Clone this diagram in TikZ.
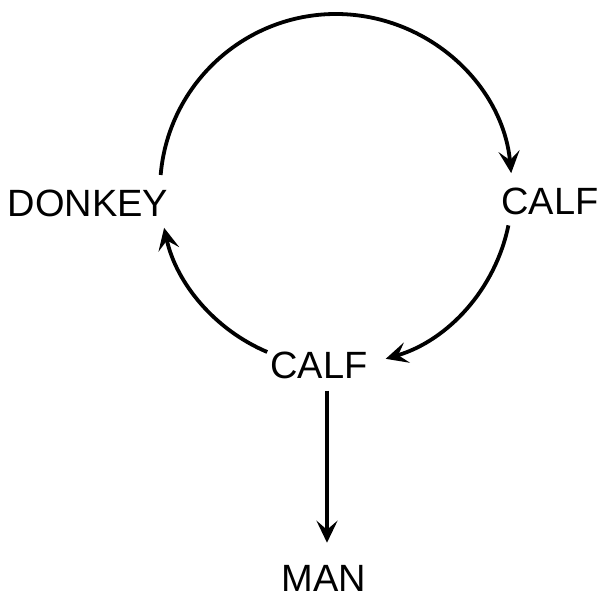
\documentclass[tikz,border=0pt]{standalone}
\usepackage{fontspec}
\setmainfont{Liberation Sans}
\usetikzlibrary{arrows.meta}
\begin{document}
\begin{tikzpicture}[x=1pt,y=1pt,
  lbl/.style={inner sep=0pt, font=\fontsize{38}{40}\selectfont},
  arr/.style={line width=3.8pt, -{Stealth[length=22pt,width=21pt,inset=9pt]}}]
\useasboundingbox (0,0) rectangle (602,-599);
\coordinate (c) at (336,-190);
\node[lbl] (donkey) at (88,-203) {DONKEY};
\node[lbl] (calfr) at (550,-201) {CALF};
\node[lbl] (calfb) at (319,-365) {CALF};
\node[lbl] (man) at (324,-578) {MAN};
% top arc: DONKEY -> CALF
\draw[arr] (c) ++(175.1:176) arc[start angle=175.1, end angle=5.5, radius=176];
% right arc: CALF -> CALF
\draw[arr] (c) ++(-11.6:176) arc[start angle=-11.6, end angle=-73.6, radius=176];
% left arc: CALF -> DONKEY
\draw[arr] (c) ++(-113:176) arc[start angle=-113, end angle=-167.6, radius=176];
% vertical: CALF -> MAN
\draw[arr] ([xshift=8pt,yshift=-12pt]calfb.south) -- ([xshift=3pt,yshift=22pt]man.north);
\end{tikzpicture}
\end{document}
